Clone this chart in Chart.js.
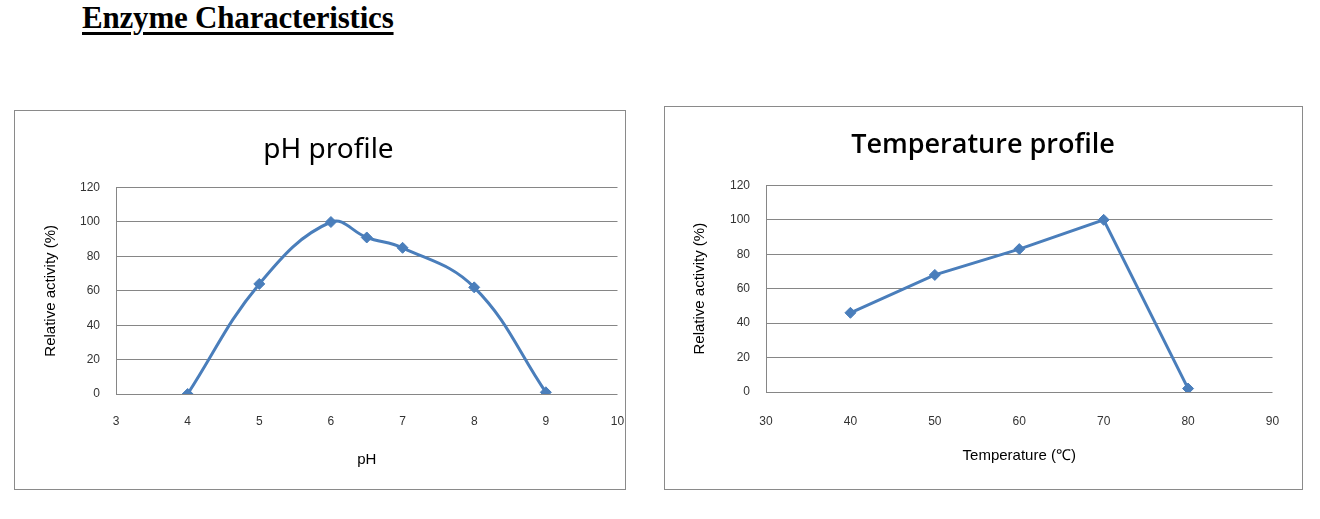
<!DOCTYPE html>
<html>
<head>
<meta charset="utf-8">
<script src="https://cdn.jsdelivr.net/npm/chart.js@4/dist/chart.umd.min.js"></script>
<style>
  html, body { margin: 0; padding: 0; background: #fff; width: 1320px; height: 519px; overflow: hidden; }
  #pageTitle { position: absolute; left: 82px; top: 0px; font-family: "Liberation Serif", "Times New Roman", serif; font-weight: bold; font-size: 31px; color: #000; text-decoration: underline; text-decoration-thickness: 3px; text-underline-offset: 4px; letter-spacing: -0.2px; line-height: 36px; }
  .box { position: absolute; border: 1.5px solid #8a8a8a; box-sizing: border-box; background: #fff; }
  #box1 { left: 14px; top: 110px; width: 612px; height: 380px; }
  #box2 { left: 664px; top: 106px; width: 639px; height: 384px; }
  .box canvas { display: block; }
</style>
</head>
<body>
<div id="pageTitle">Enzyme Characteristics</div>
<div class="box" id="box1"><canvas id="c1"></canvas></div>
<div class="box" id="box2"><canvas id="c2"></canvas></div>
<script>
// ---- data ----
const phValues = [4, 5, 6, 6.5, 7, 8, 9];
const phActivity = [0, 64, 100, 91, 85, 62, 1];
const tempValues = [40, 50, 60, 70, 80];
const tempActivity = [46, 68, 83, 100, 2];
const phTicks = [3, 4, 5, 6, 7, 8, 9, 10];
const tempTicks = [30, 40, 50, 60, 70, 80, 90];
const yTicks = [0, 20, 40, 60, 80, 100, 120];

const LINE = '#4A7EBB';
const GRID = '#868686';
const TICKFONT = { family: '"Liberation Sans", sans-serif', size: 12 };
const AXISFONT = { family: '"Liberation Sans", sans-serif', size: 15 };

function toPoints(xs, ys) { return xs.map((x, i) => ({ x: x, y: ys[i] })); }

function makeChart(id, w, h, cfg) {
  const cv = document.getElementById(id);
  cv.width = w; cv.height = h;
  cv.style.width = w + 'px'; cv.style.height = h + 'px';
  return new Chart(cv, {
    type: 'line',
    data: {
      datasets: [{
        data: toPoints(cfg.xs, cfg.ys),
        borderColor: LINE,
        backgroundColor: LINE,
        borderWidth: 3,
        pointStyle: 'rectRot',
        pointRadius: 5.5,
        pointBorderWidth: 1,
        tension: cfg.tension,
        fill: false
      }]
    },
    options: {
      responsive: false,
      animation: false,
      devicePixelRatio: 1,
      layout: { padding: { top: 0, right: 0, left: cfg.padLeft, bottom: 0 } },
      plugins: {
        legend: { display: false },
        tooltip: { enabled: false },
        title: {
          display: true,
          text: cfg.title,
          color: '#000',
          font: { family: cfg.titleFamily, size: cfg.titleSize, weight: cfg.titleWeight, lineHeight: 1.2 },
          padding: { top: cfg.titleTop, bottom: cfg.titleBottom }
        }
      },
      scales: {
        x: {
          type: 'linear',
          min: cfg.xTicks[0],
          max: cfg.xTicks[cfg.xTicks.length - 1],
          afterBuildTicks: (s) => { s.ticks = cfg.xTicks.map(v => ({ value: v })); },
          afterFit: (s) => { s.height = cfg.xHeight; s.paddingLeft = 0; s.paddingRight = cfg.plotRight; },
          grid: { display: true, drawOnChartArea: false, drawTicks: true, tickLength: cfg.xTickLen, color: 'rgba(0,0,0,0)' },
          border: { display: false },
          ticks: { color: '#333', font: TICKFONT, padding: 0, maxRotation: 0 },
          title: { display: true, text: cfg.xTitle, color: '#000', font: AXISFONT, padding: { top: 0, bottom: cfg.xTitlePad } }
        },
        y: {
          min: 0, max: 120,
          afterBuildTicks: (s) => { s.ticks = yTicks.map(v => ({ value: v })); },
          afterFit: (s) => { s.width = cfg.yWidth; },
          grid: { display: true, color: GRID, lineWidth: 1, drawTicks: false },
          border: { display: true, color: GRID, width: 1 },
          ticks: { color: '#333', font: TICKFONT, padding: 16 },
          title: { display: true, text: 'Relative activity (%)', color: '#000', font: AXISFONT, padding: { top: cfg.yTitlePad, bottom: 0 } }
        }
      }
    }
  });
}

makeChart('c1', 609, 377, {
  xs: phValues, ys: phActivity, xTicks: phTicks, tension: 0.4,
  title: 'pH profile', titleFamily: '"Noto Sans", sans-serif', titleWeight: 'normal', titleSize: 28,
  titleTop: 22, titleBottom: 21,
  padLeft: 18, yWidth: 83, yTitlePad: 9,
  plotRight: 6.5, xHeight: 94, xTickLen: 20, xTitlePad: 19, xTitle: 'pH'
});

makeChart('c2', 636, 381, {
  xs: tempValues, ys: tempActivity, xTicks: tempTicks, tension: 0,
  title: 'Temperature profile', titleFamily: '"Open Sans", "Noto Sans", sans-serif', titleWeight: 600, titleSize: 27,
  titleTop: 22, titleBottom: 24,
  padLeft: 0, yWidth: 101, yTitlePad: 26,
  plotRight: 28.5, xHeight: 96, xTickLen: 22, xTitlePad: 23, xTitle: 'Temperature (\u2103)'
});
</script>
</body>
</html>
